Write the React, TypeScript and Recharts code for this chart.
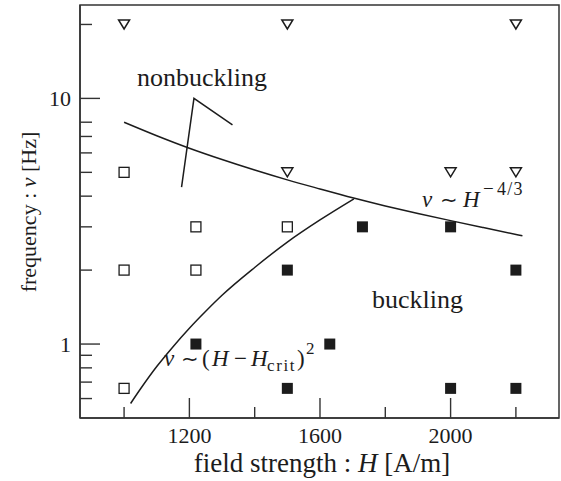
import React from 'react';
import { ComposedChart, Line, Scatter, XAxis, YAxis, ReferenceArea } from 'recharts';

// axis ticks
const xTicks = [1000, 1200, 1400, 1600, 1800, 2000, 2200];
const xLabeled = [1200, 1600, 2000];
const yTicks = [0.6, 0.7, 0.8, 0.9, 1, 2, 3, 4, 5, 6, 7, 8, 10, 20];
const yLabeled = [1, 10];

// measurements
const triH = [1000, 1500, 2200, 1500, 2000, 2200];
const triNu = [20, 20, 20, 5, 5, 5];
const openH = [1000, 1220, 1500, 1000, 1220, 1000];
const openNu = [5, 3, 3, 2, 2, 0.66];
const fillH = [1220, 1500, 1730, 2000, 2200, 1630, 1500, 2000, 2200];
const fillNu = [1, 2, 3, 3, 2, 1, 0.66, 0.66, 0.66];

// fitted curves
const powH = [1000, 1100, 1200, 1300, 1400, 1500, 1600, 1700, 1800, 1900, 2000, 2100, 2220];
const powNu = [8.0, 7.05, 6.27, 5.64, 5.11, 4.66, 4.28, 3.94, 3.65, 3.4, 3.18, 2.98, 2.76];
const quadH = [1020, 1050, 1100, 1150, 1200, 1250, 1300, 1400, 1500, 1600, 1704];
const quadNu = [0.573, 0.656, 0.81, 0.976, 1.16, 1.36, 1.58, 2.05, 2.6, 3.2, 3.9];
const ptrH = [1176, 1214, 1332];
const ptrNu = [4.35, 10, 7.8];

const zip = (h: number[], nu: number[]) => h.map((v, i) => ({ h: v, nu: nu[i] }));

const INK = '#1c1c1c';
const AXIS = '#333';
const FONT = '"Liberation Serif", "Times New Roman", serif';

const XTick = ({ x, y, payload }: any) => {
  const major = xLabeled.includes(payload.value);
  return (
    <g>
      <line x1={x} x2={x} y1={y} y2={y - (major ? 20 : 11)} stroke={AXIS} strokeWidth={1.4} />
      {major && (
        <text x={x} y={y + 25} textAnchor="middle" fontFamily={FONT} fontSize={22} fill={INK}>
          {payload.value}
        </text>
      )}
    </g>
  );
};

const YTick = ({ x, y, payload }: any) => {
  const major = yLabeled.includes(payload.value);
  return (
    <g>
      <line x1={x} x2={x + (major ? 20 : 12)} y1={y} y2={y} stroke={AXIS} strokeWidth={1.4} />
      {major && (
        <text x={x - 9} y={y + 7.5} textAnchor="end" fontFamily={FONT} fontSize={22} fill={INK}>
          {payload.value}
        </text>
      )}
    </g>
  );
};

const Triangle = ({ cx, cy }: any) => (
  <path
    d={`M${cx - 5.5},${cy - 4.5} L${cx + 5.5},${cy - 4.5} L${cx},${cy + 4.5} Z`}
    fill="#fff"
    stroke={INK}
    strokeWidth={1.5}
  />
);

const OpenSquare = ({ cx, cy }: any) => (
  <rect x={cx - 5} y={cy - 5} width={10} height={10} fill="#fff" stroke={INK} strokeWidth={1.3} />
);

const FilledSquare = ({ cx, cy }: any) => (
  <rect x={cx - 5.5} y={cy - 5.5} width={11} height={11} fill={INK} />
);

export default function App() {
  return (
    <div style={{ position: 'absolute', left: 0, top: 0, background: '#fff' }}>
      <ComposedChart width={561} height={481} margin={{ top: 5, right: 2, bottom: 0, left: 0 }}>
        <XAxis
          type="number"
          dataKey="h"
          domain={[865, 2332]}
          allowDataOverflow
          ticks={xTicks}
          interval={0}
          height={63}
          tickSize={0}
          tickMargin={0}
          tick={<XTick />}
          axisLine={{ stroke: AXIS, strokeWidth: 1.5 }}
        />
        <YAxis
          type="number"
          dataKey="nu"
          scale="log"
          domain={[0.5, 24]}
          allowDataOverflow
          ticks={yTicks}
          interval={0}
          width={80}
          tickSize={0}
          tickMargin={0}
          tick={<YTick />}
          axisLine={{ stroke: AXIS, strokeWidth: 1.5 }}
        />
        <ReferenceArea x1={865} x2={2332} y1={0.5} y2={24} fill="none" stroke={AXIS} strokeWidth={1.5} />
        <Line data={zip(powH, powNu)} dataKey="nu" type="monotone" stroke={INK} strokeWidth={1.5} dot={false} isAnimationActive={false} />
        <Line data={zip(quadH, quadNu)} dataKey="nu" type="monotone" stroke={INK} strokeWidth={1.5} dot={false} isAnimationActive={false} />
        <Line data={zip(ptrH, ptrNu)} dataKey="nu" type="linear" stroke={INK} strokeWidth={1.5} dot={false} isAnimationActive={false} />
        <Scatter data={zip(triH, triNu)} dataKey="nu" shape={<Triangle />} isAnimationActive={false} />
        <Scatter data={zip(openH, openNu)} dataKey="nu" shape={<OpenSquare />} isAnimationActive={false} />
        <Scatter data={zip(fillH, fillNu)} dataKey="nu" shape={<FilledSquare />} isAnimationActive={false} />

        <text x={137} y={86} fontFamily={FONT} fontSize={26} fill={INK}>nonbuckling</text>
        <text x={372} y={308} fontFamily={FONT} fontSize={26} fill={INK}>buckling</text>

        {/* ν ∼ H^{-4/3} */}
        <text y={207} fontFamily={FONT} fontSize={23} fill={INK}>
          <tspan x={422} fontStyle="italic">ν</tspan>
          <tspan x={440} fontSize={21}>∼</tspan>
          <tspan x={463} fontStyle="italic">H</tspan>
          <tspan x={483} y={195} fontSize={19}>−</tspan>
          <tspan x={497} y={195} fontSize={18} letterSpacing={1.2}>4/3</tspan>
        </text>

        {/* ν ∼ (H − H_crit)^2 */}
        <text y={366} fontFamily={FONT} fontSize={23} fill={INK}>
          <tspan x={164} fontStyle="italic">ν</tspan>
          <tspan x={181} fontSize={21}>∼</tspan>
          <tspan x={202}>(</tspan>
          <tspan x={212} fontStyle="italic">H</tspan>
          <tspan x={234}>−</tspan>
          <tspan x={251} fontStyle="italic">H</tspan>
          <tspan x={267} y={371} fontSize={17} letterSpacing={1.6}>crit</tspan>
          <tspan x={297} y={366}>)</tspan>
          <tspan x={306} y={354} fontSize={17}>2</tspan>
        </text>

        <text x={322} y={472} textAnchor="middle" fontFamily={FONT} fontSize={27} fill={INK}>
          field strength : <tspan fontStyle="italic">H</tspan> [A/m]
        </text>
        <text
          x={36}
          y={212}
          transform="rotate(-90, 36, 212)"
          textAnchor="middle"
          fontFamily={FONT}
          fontSize={22}
          fill={INK}
        >
          frequency : <tspan fontStyle="italic">ν</tspan> [Hz]
        </text>
      </ComposedChart>
    </div>
  );
}
